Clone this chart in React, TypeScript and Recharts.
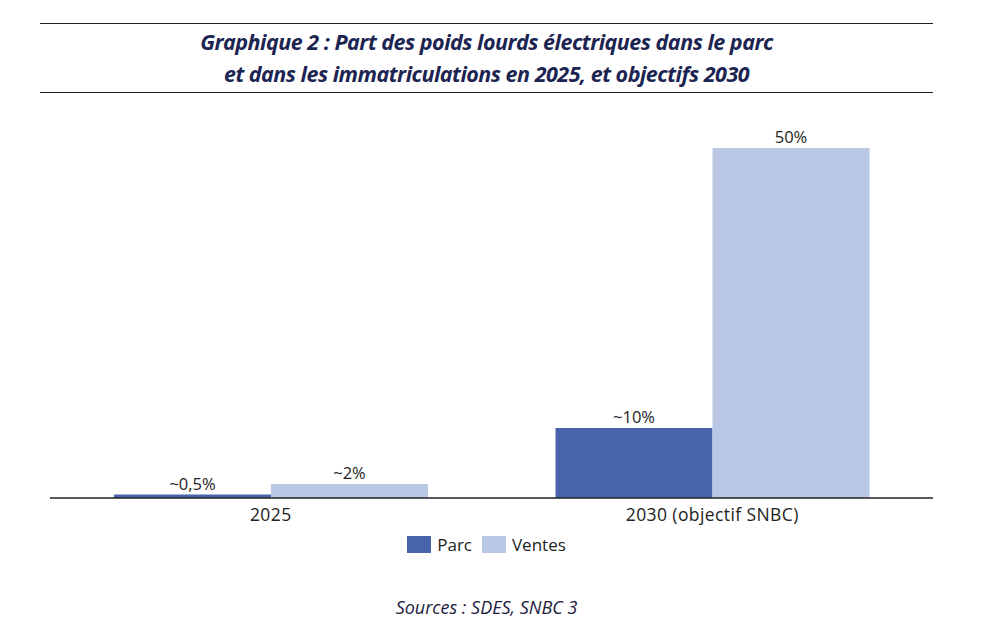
import { BarChart, Bar, XAxis, YAxis, Legend, LabelList } from "recharts";

const categories = ["2025", "2030 (objectif SNBC)"];
const parcValues = [0.5, 10];
const ventesValues = [2, 50];
const parcLabels = ["~0,5%", "~10%"];
const ventesLabels = ["~2%", "50%"];

const FONT = "'Open Sans', 'Noto Sans', sans-serif";
const PARC_COLOR = "#4964ad";
const VENTES_COLOR = "#bac7e5";

const data = categories.map((name, i) => ({
  name,
  parc: parcValues[i],
  ventes: ventesValues[i],
  parcLabel: parcLabels[i],
  ventesLabel: ventesLabels[i],
}));

const legendItems = [
  { label: "Parc", color: PARC_COLOR },
  { label: "Ventes", color: VENTES_COLOR },
];

function LegendContent() {
  return (
    <div style={{ display: "flex", justifyContent: "center", alignItems: "center", gap: 10, paddingRight: 12 }}>
      {legendItems.map((item) => (
        <div key={item.label} style={{ display: "flex", alignItems: "center" }}>
          <div style={{ width: 24, height: 17, background: item.color, marginRight: 6 }} />
          <span style={{ fontFamily: FONT, fontSize: 17, color: "#222" }}>{item.label}</span>
        </div>
      ))}
    </div>
  );
}

export default function App() {
  return (
    <div style={{ position: "absolute", left: 0, top: 0, width: 985, height: 632, background: "#fff" }}>
      <div
        style={{
          position: "absolute",
          left: 40,
          top: 23,
          width: 893,
          height: 70,
          borderTop: "1.5px solid #222",
          borderBottom: "1.5px solid #222",
          boxSizing: "border-box",
          textAlign: "center",
          fontFamily: FONT,
          fontStyle: "italic",
          fontWeight: 700,
          fontSize: 21.5,
          lineHeight: "32px",
          color: "#1c2452",
          paddingTop: 2,
          letterSpacing: -0.5,
        }}
      >
        Graphique 2 : Part des poids lourds électriques dans le parc
        <br />
        et dans les immatriculations en 2025, et objectifs 2030
      </div>

      <div style={{ position: "absolute", left: 0, top: 0 }}>
        <BarChart
          width={985}
          height={632}
          data={data}
          margin={{ top: 148, right: 52, bottom: 104, left: 50 }}
          barCategoryGap="14.5%"
          barGap={0}
        >
          <XAxis
            dataKey="name"
            height={30}
            axisLine={{ stroke: "#222", strokeWidth: 1.5 }}
            tickLine={false}
            tick={{ fontFamily: FONT, fontSize: 17.5, fill: "#222", letterSpacing: 0.4 }}
            tickMargin={5}
          />
          <YAxis hide domain={[0, 50]} />
          <Bar dataKey="parc" fill={PARC_COLOR} isAnimationActive={false}>
            <LabelList dataKey="parcLabel" position="top" offset={5} style={{ fontFamily: FONT, fontSize: 16.5, fill: "#222" }} />
          </Bar>
          <Bar dataKey="ventes" fill={VENTES_COLOR} isAnimationActive={false}>
            <LabelList dataKey="ventesLabel" position="top" offset={5} style={{ fontFamily: FONT, fontSize: 16.5, fill: "#222" }} />
          </Bar>
          <Legend
            verticalAlign="middle"
            content={<LegendContent />}
            wrapperStyle={{ top: 533, left: 0, width: 985 }}
          />
        </BarChart>
      </div>

      <div
        style={{
          position: "absolute",
          left: 0,
          top: 595,
          width: 985,
          textAlign: "center",
          fontFamily: FONT,
          fontStyle: "italic",
          fontSize: 18,
          color: "#1c2040",
          paddingRight: 12,
          boxSizing: "border-box",
        }}
      >
        Sources : SDES, SNBC 3
      </div>
    </div>
  );
}
